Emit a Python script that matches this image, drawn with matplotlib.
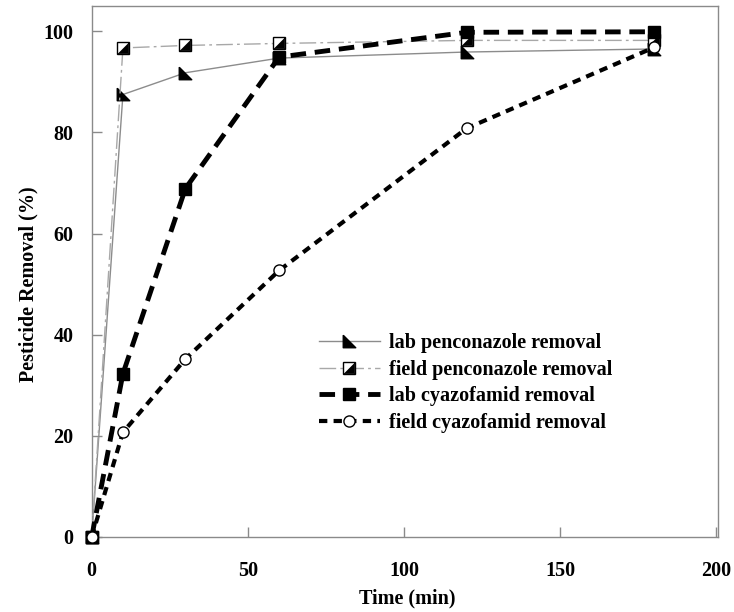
import numpy as np
import matplotlib
matplotlib.use("Agg")
import matplotlib.pyplot as plt

plt.rcParams['font.family'] = ['Liberation Serif', 'DejaVu Serif']
plt.rcParams['font.weight'] = 'bold'

# data (time in min, removal in %)
time_min = [0, 10, 30, 60, 120, 180]
lab_penconazole = [0, 87.5, 91.8, 94.7, 95.9, 96.5]
field_penconazole = [0, 96.7, 97.2, 97.6, 98.2, 98.2]
lab_cyazofamid = [0, 32.3, 68.9, 94.9, 99.8, 99.9]
field_cyazofamid = [0, 20.7, 35.2, 52.7, 80.8, 96.8]

x_ticks = [0, 50, 100, 150, 200]
y_ticks = [0, 20, 40, 60, 80, 100]

# custom marker shapes
tri_ll = [(-1, 1), (-1, -1), (1, -1), (-1, 1)]      # lower-left right triangle
tri_lr = [(1, 1), (1, -1), (-1, -1), (1, 1)]        # lower-right half of square

fig = plt.figure(figsize=(7.34, 6.12), dpi=100)
ax = fig.add_axes([91.7 / 734, 75 / 612, 626.3 / 734, 531 / 612])

fs = 14.5

l1, = ax.plot(time_min, lab_penconazole, color='#8c8c8c', lw=1.0,
              marker=tri_ll, ms=9, mfc='black', mec='black', clip_on=False, zorder=3)

l2a, = ax.plot(time_min, field_penconazole, color='#a8a8a8', lw=1.0,
               linestyle=(0, (12, 3, 2, 3)),
               marker='s', ms=9, mfc='white', mec='black', mew=1.0, clip_on=False, zorder=3)
l2b, = ax.plot(time_min, field_penconazole, linestyle='none',
               marker=tri_lr, ms=7.5, mfc='black', mec='black', mew=0.5, clip_on=False, zorder=3)

l3, = ax.plot(time_min, lab_cyazofamid, color='black', lw=3.5,
              linestyle=(0, (3.2, 1.8)),
              marker='s', ms=9, mfc='black', mec='black', clip_on=False, zorder=4)

l4, = ax.plot(time_min, field_cyazofamid, color='black', lw=3.0,
              linestyle=(0, (2.0, 1.5)),
              marker='o', ms=8, mfc='white', mec='black', mew=1.0, clip_on=False, zorder=4)

ax.set_xlim(0, 200.5)
ax.set_ylim(0, 105)
ax.set_xticks(x_ticks)
ax.set_yticks(y_ticks)

for sp in ax.spines.values():
    sp.set_color('#8a8a8a')
    sp.set_linewidth(1.0)

ax.tick_params(axis='both', direction='in', length=7, width=1, color='#8a8a8a',
               labelsize=fs)
ax.tick_params(axis='x', pad=17)
ax.tick_params(axis='y', pad=13)
for lab in ax.get_xticklabels() + ax.get_yticklabels():
    lab.set_fontweight('bold')

fig.text(407.5 / 734, 1 - 598 / 612, 'Time (min)', ha='center', va='center',
         fontsize=fs, fontweight='bold')
fig.text(28 / 734, 1 - 284 / 612, 'Pesticide Removal (%)', ha='center', va='center',
         rotation=90, fontsize=fs, fontweight='bold')

leg = ax.legend([l1, (l2a, l2b), l3, l4],
                ['lab penconazole removal', 'field penconazole removal',
                 'lab cyazofamid removal', 'field cyazofamid removal'],
                loc='center', bbox_to_anchor=(0.597, 0.29), frameon=False,
                numpoints=1, handlelength=3.0, handletextpad=0.45,
                labelspacing=0.32, prop={'size': fs, 'weight': 'bold'})

fig.savefig('out.png', dpi=100)
